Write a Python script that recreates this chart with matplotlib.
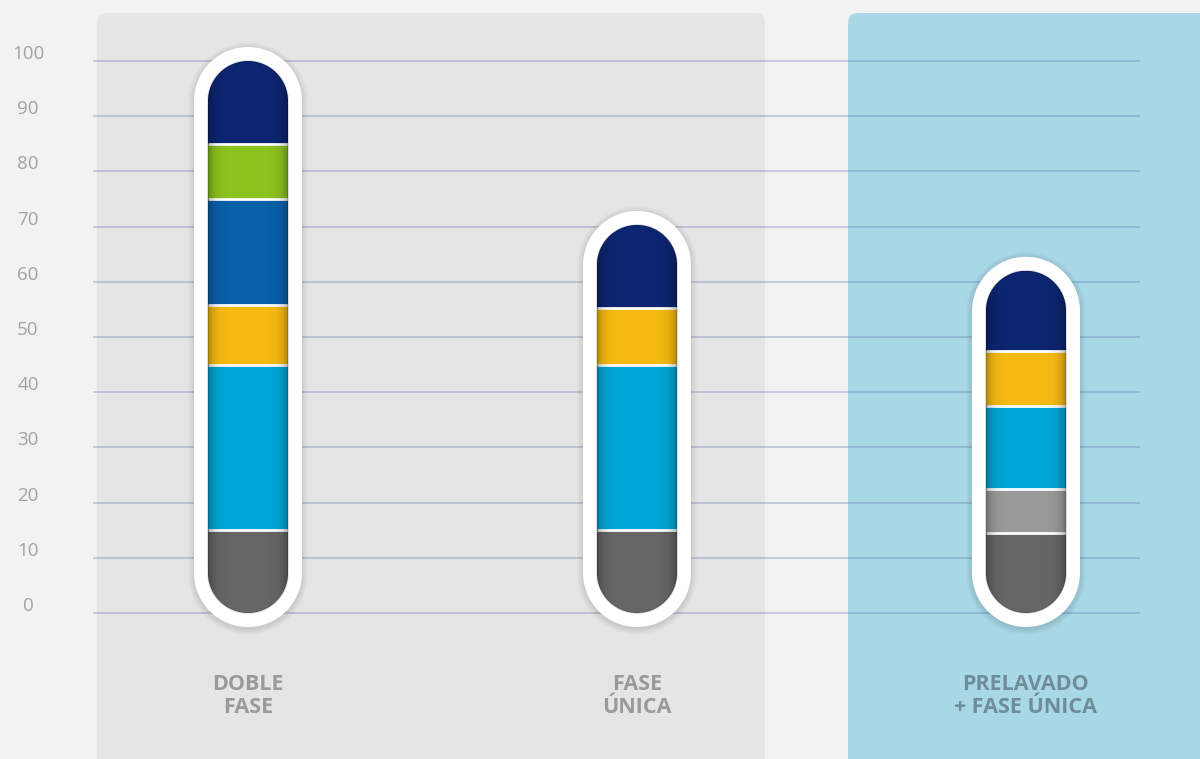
import numpy as np
import matplotlib
matplotlib.use("Agg")
import matplotlib.pyplot as plt
from matplotlib.patches import FancyBboxPatch, PathPatch
from matplotlib.path import Path

# datos
categorias = ["DOBLE\nFASE", "FASE\nÚNICA", "PRELAVADO\n+ FASE ÚNICA"]
gris_oscuro = [15, 15, 14.5]
gris_claro = [0, 0, 8]
azul_claro = [30, 30, 15]
amarillo = [10.8, 10.3, 10]
azul = [19.2, 0, 0]
verde = [10, 0, 0]
azul_marino = [15, 15, 14.5]
series = [gris_oscuro, gris_claro, azul_claro, amarillo, azul, verde, azul_marino]
colores = ["#666666", "#9a9a9a", "#00a6d6", "#f6bb12", "#0760a8", "#8dc31f", "#0c2570"]
ticks = list(range(0, 101, 10))

# escala: pixeles -> datos
W, H = 1200, 759
PX_X = 389.0   # px por unidad x
PX_Y = 5.52    # px por unidad y
X0, Y0 = 248, 613
ASP = PX_X / PX_Y


def px(n):
    return n / PX_X


def py(n):
    return n / PX_Y


fig = plt.figure(figsize=(W / 100, H / 100), dpi=100)
fig.patch.set_facecolor("#f2f2f2")
ax = fig.add_axes([0, 0, 1, 1])
ax.set_xlim(-X0 / PX_X, (W - X0) / PX_X)
ax.set_ylim(-(H - Y0) / PX_Y, Y0 / PX_Y)
ax.axis("off")

arco = Path.arc(0, 180)


def capsula(xc, y0, y1, w, **kw):
    # semicirculos arriba y abajo (en pixeles), rectangulo en medio
    rx = w / 2
    ry = rx * ASP
    top = arco.vertices.copy()
    top[:, 0] = xc + top[:, 0] * rx
    top[:, 1] = (y1 - ry) + top[:, 1] * ry
    bot = arco.vertices.copy()
    bot[:, 0] = xc - bot[:, 0] * rx
    bot[:, 1] = (y0 + ry) - bot[:, 1] * ry
    verts = np.vstack([top, bot, top[:1]])
    codes = ([Path.MOVETO] + list(arco.codes[1:]) + [Path.LINETO] +
             list(arco.codes[1:]) + [Path.CLOSEPOLY])
    p = PathPatch(Path(verts, codes), **kw)
    ax.add_patch(p)
    return p


# paneles de fondo
for xa, xb, col in [(97, 765, "#e5e5e5"), (848, 1260, "#a8d8e6")]:
    ax.add_patch(FancyBboxPatch((px(xa - X0), -60), px(xb - xa), 60 + py(Y0 - 13),
                                boxstyle=f"round,pad=0,rounding_size={px(10)}",
                                mutation_aspect=ASP, fc=col, ec="none", zorder=0))

# rejilla
ax.hlines(ticks, px(93 - X0), px(1140 - X0), color="#5a6aa8", alpha=0.35, lw=1.2, zorder=1)
for t in ticks:
    ax.text(px(28 - X0), t + py(7), str(t), ha="center", va="center",
            fontsize=13.5, color="#a3a3a3", family="Open Sans", zorder=2)

ancho = px(80)
borde = 14
totales = np.sum(series, axis=0)
grad = np.linspace(-1, 1, 80)
sombra = np.zeros((1, 80, 4))
sombra[..., 3] = 0.28 * np.abs(grad) ** 6

for i, cat in enumerate(categorias):
    top = totales[i]
    # sombra exterior
    for k in range(7):
        capsula(i, -py(borde + k) - py(2), top + py(borde + k) - py(1),
                px(80 + 2 * borde + 2 * k), fc="black", ec="none", alpha=0.016, zorder=2)
    capsula(i, -py(borde), top + py(borde), px(80 + 2 * borde), fc="white", ec="none", zorder=3)
    clip = capsula(i, 0, top, ancho, fc="none", ec="none", zorder=4)

    base = 0
    for vals, col in zip(series, colores):
        v = vals[i]
        if v <= 0:
            continue
        b = ax.bar(i, v, bottom=base, width=ancho, color=col, lw=0, zorder=4)
        for r in b:
            r.set_clip_path(clip)
        base += v
        if base < top - 0.01:
            ax.hlines(base, i - ancho / 2, i + ancho / 2, color="white", lw=2, zorder=5)
    # sombreado interior en los bordes
    im = ax.imshow(sombra, extent=(i - ancho / 2, i + ancho / 2, 0, top),
                   aspect="auto", zorder=6, interpolation="bilinear")
    im.set_clip_path(clip)
    capsula(i, 0, top, ancho, fc="none", ec="#000000", alpha=0.15, lw=1.2, zorder=7)

    col_txt = "#6e8d99" if i == 2 else "#9a9a9a"
    ax.text(i, -15, cat, ha="center", va="center", fontsize=15.5, fontweight="bold",
            color=col_txt, family="Open Sans", linespacing=1.15, zorder=8)

ax.set_xlim(-X0 / PX_X, (W - X0) / PX_X)
ax.set_ylim(-(H - Y0) / PX_Y, Y0 / PX_Y)
fig.savefig("out.png", dpi=100, facecolor=fig.get_facecolor())
